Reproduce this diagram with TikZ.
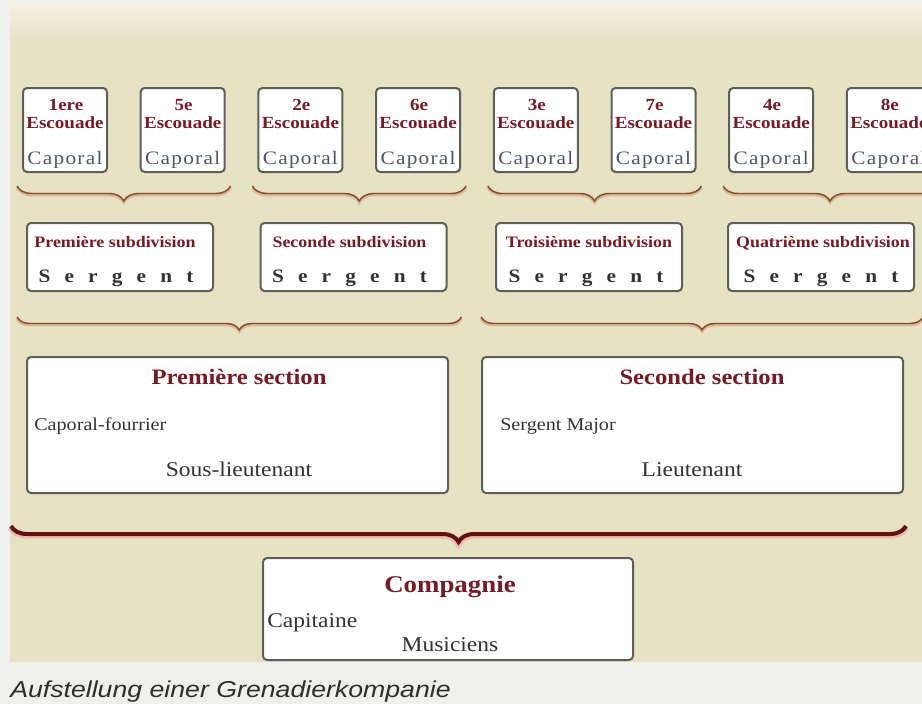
\documentclass[tikz,border=0pt]{standalone}
\usepackage{fontspec}
\setmainfont{Liberation Serif}
\newfontfamily\capsans{Liberation Sans}
\usepackage{graphicx}
\usetikzlibrary{decorations.pathreplacing,calc}

\definecolor{parch}{RGB}{232,226,197}
\definecolor{parchtop}{RGB}{244,241,230}
\definecolor{capbg}{RGB}{240,240,237}
\definecolor{titred}{RGB}{118,26,38}
\definecolor{txtgray}{RGB}{50,50,50}
\definecolor{capblue}{RGB}{78,86,104}
\definecolor{boxline}{RGB}{92,96,86}
\definecolor{bracebrown}{RGB}{125,78,48}
\definecolor{bracehalo}{RGB}{224,180,150}
\definecolor{bigred}{RGB}{100,16,16}
\definecolor{bighalo}{RGB}{236,186,176}
\definecolor{capgray}{RGB}{45,45,45}

\newcommand\hs[1]{\scalebox{1.12}[1]{#1}}
\newcommand\sergtext{{\spaceskip=9.5pt\relax\hs{S e r g e n t}}}

\tikzset{
  box/.style={draw=boxline, line width=1.5pt, fill=white, rounded corners=3pt, inner sep=0pt},
  squad/.style={box, minimum width=63pt, minimum height=63pt},
  subdiv/.style={box, minimum width=139.5pt, minimum height=51pt},
  sect/.style={box, minimum width=315.75pt, minimum height=102pt},
  comp/.style={box, minimum width=277.5pt, minimum height=76.5pt},
  txt/.style={inner sep=0pt, anchor=base},
  sqtitle/.style={txt, text=titred, font=\bfseries\fontsize{12.75pt}{14pt}\selectfont},
  sqrank/.style={txt, text=capblue, font=\fontsize{14.25pt}{16pt}\selectfont\addfontfeatures{LetterSpace=6}},
  subtitle/.style={txt, text=titred, font=\bfseries\fontsize{12pt}{14pt}\selectfont},
  serg/.style={txt, text=txtgray, font=\bfseries\fontsize{14.25pt}{16pt}\selectfont},
  sectitle/.style={txt, text=titred, font=\bfseries\fontsize{16.5pt}{18pt}\selectfont},
  smalltxt/.style={txt, text=txtgray, font=\fontsize{13.5pt}{15pt}\selectfont},
  bigtxt/.style={txt, text=txtgray, font=\fontsize{15.75pt}{18pt}\selectfont},
  comptitle/.style={txt, text=titred, font=\bfseries\fontsize{18pt}{20pt}\selectfont},
  smallbrace/.style={draw=bracebrown, line width=1.1pt, decorate, decoration={brace, amplitude=11.25pt}},
  smallhalo/.style={draw=bracehalo, line width=2pt, decorate, decoration={brace, amplitude=11.25pt}, transform canvas={yshift=-1.2pt}},
  midbrace/.style={draw=bracebrown, line width=1.1pt, decorate, decoration={brace, amplitude=9.75pt}},
  midhalo/.style={draw=bracehalo, line width=2pt, decorate, decoration={brace, amplitude=9.75pt}, transform canvas={yshift=-1.2pt}},
  bigbrace/.style={draw=bigred, line width=3pt, decorate, decoration={brace, amplitude=12pt}},
  bighalob/.style={draw=bighalo, line width=5pt, decorate, decoration={brace, amplitude=12pt}, transform canvas={yshift=-1pt}},
}

\begin{document}
\begin{tikzpicture}[x=0.75pt,y=-0.75pt]
\useasboundingbox (0,0) rectangle (922,704);
\clip (0,0) rectangle (922,704);
% background
\fill[capbg] (0,0) rectangle (922,704);
\fill[parch] (10,40) rectangle (922,662);
\shade[top color=parchtop, bottom color=parch] (10,3) rectangle (922,41);

% squads
\foreach \i/\n in {1/1ere,2/5e,3/2e,4/6e,5/3e,6/7e,7/4e,8/8e}{
  \node[squad] (e\i) at ({65+117.7*(\i-1)},130) {};
  \node[sqtitle] (e\i n) at ($(e\i.north)+(1,23)$) {\hs{\n}};
  \node[sqtitle] (e\i t) at ($(e\i.north)+(0,41)$) {\hs{Escouade}};
  \node[sqrank] (e\i r) at ($(e\i.north)+(0,77)$) {\hs{Caporal}};
}

% subdivisions
\node[subdiv] (s1) at (120,257) {};
\node[subtitle] (s1t) at ($(s1.north)+(-5,25)$) {\hs{Première subdivision}};
\node[serg] (s1r) at ($(s1.north)+(-4,60)$) {\sergtext};
\node[subdiv] (s2) at (353.5,257) {};
\node[subtitle] (s2t) at ($(s2.north)+(-4,25)$) {\hs{Seconde subdivision}};
\node[serg] (s2r) at ($(s2.north)+(-4,60)$) {\sergtext};
\node[subdiv] (s3) at (589,257) {};
\node[subtitle] (s3t) at ($(s3.north)+(0,25)$) {\hs{Troisième subdivision}};
\node[serg] (s3r) at ($(s3.north)+(-3,60)$) {\sergtext};
\node[subdiv] (s4) at (821,257) {};
\node[subtitle] (s4t) at ($(s4.north)+(2,25)$) {\hs{Quatrième subdivision}};
\node[serg] (s4r) at ($(s4.north)+(0,60)$) {\sergtext};

% sections
\node[sect] (sec1) at (237.5,425) {};
\node[sectitle] (sec1t) at ($(sec1.north)+(1.5,28)$) {\hs{Première section}};
\node[smalltxt, anchor=base west] (sec1a) at ($(sec1.north west)+(8,74)$) {\hs{Caporal-fourrier}};
\node[bigtxt] (sec1b) at ($(sec1.north)+(1.5,120)$) {\hs{Sous-lieutenant}};

\node[sect] (sec2) at (692.5,425) {};
\node[sectitle] (sec2t) at ($(sec2.north)+(9.5,28)$) {\hs{Seconde section}};
\node[smalltxt, anchor=base west] (sec2a) at ($(sec2.north west)+(19,74)$) {\hs{Sergent Major}};
\node[bigtxt] (sec2b) at ($(sec2.north)+(-0.5,120)$) {\hs{Lieutenant}};

% company
\node[comp] (co) at (448,609) {};
\node[comptitle] (cot) at ($(co.north)+(2,35)$) {\hs{Compagnie}};
\node[bigtxt, anchor=base west] (coa) at ($(co.north west)+(5,70)$) {\hs{Capitaine}};
\node[bigtxt] (cob) at ($(co.north)+(2,94)$) {\hs{Musiciens}};

% braces
\coordinate (b1l) at ($(e1.south west)+(-5,13)$);
\coordinate (b1r) at ($(e2.south east)+(5,13)$);
\coordinate (b2l) at ($(e3.south west)+(-5,13)$);
\coordinate (b2r) at ($(e4.south east)+(5,13)$);
\coordinate (b3l) at ($(e5.south west)+(-5,13)$);
\coordinate (b3r) at ($(e6.south east)+(5,13)$);
\coordinate (b4l) at ($(e7.south west)+(-5,13)$);
\coordinate (b4r) at ($(e8.south east)+(5,13)$);
\foreach \j in {1,2,3,4}{
  \draw[smallhalo] (b\j r) -- (b\j l);
  \draw[smallbrace] (b\j r) -- (b\j l);
}
\coordinate (m1l) at ($(s1.south west)+(-9,25)$);
\coordinate (m1r) at ($(s2.south east)+(14,25)$);
\coordinate (m2l) at ($(s3.south west)+(-14,25)$);
\coordinate (m2r) at ($(s4.south east)+(8,25)$);
\draw[midhalo] (m1r) -- (m1l);
\draw[midbrace] (m1r) -- (m1l);
\draw[midhalo] (m2r) -- (m2l);
\draw[midbrace] (m2r) -- (m2l);

\coordinate (bgl) at ($(sec1.south west)+(-15,32)$);
\coordinate (bgr) at ($(sec2.south east)+(2,32)$);
\draw[bighalob] (bgr) -- (bgl);
\draw[bigbrace] (bgr) -- (bgl);

% caption
\node[inner sep=0pt, anchor=base west, text=capgray, font=\capsans\itshape\fontsize{17.25pt}{20pt}\selectfont] (cap) at (10,697) {\scalebox{1.16}[1]{Aufstellung einer Grenadierkompanie}};
\end{tikzpicture}
\end{document}
